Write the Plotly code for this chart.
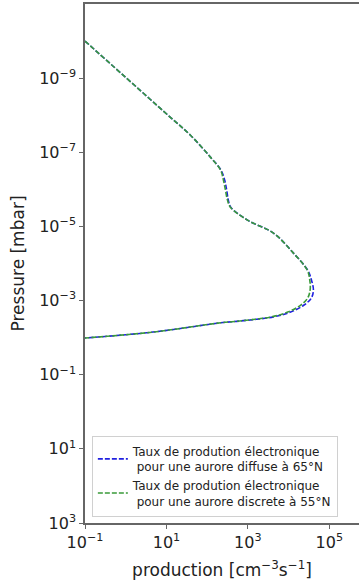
import plotly.graph_objects as go

# Pressure levels [mbar] (log10) and production [cm^-3 s^-1] (log10)
p_log_diffuse = [-10.0, -7.95, -7.46, -6.87, -6.52, -6.25, -5.98, -5.71, -5.52, -5.17,
                 -4.82, -4.28, -3.82, -3.56, -3.29, -3.07, -2.88, -2.69, -2.56, -2.45,
                 -2.40, -2.15, -1.99]
q_log_diffuse = [-1.0, 1.09, 1.59, 2.08, 2.34, 2.43, 2.48, 2.52, 2.58, 2.99,
                 3.63, 4.12, 4.47, 4.56, 4.61, 4.56, 4.38, 4.05, 3.63, 2.82,
                 2.33, 0.67, -1.0]

p_log_discrete = [-10.0, -7.95, -7.46, -6.87, -6.52, -6.25, -5.98, -5.71, -5.52, -5.17,
                  -4.82, -4.28, -3.82, -3.56, -3.29, -3.07, -2.88, -2.69, -2.56, -2.45,
                  -2.40, -2.15, -1.99]
q_log_discrete = [-1.0, 1.09, 1.59, 2.08, 2.33, 2.40, 2.45, 2.50, 2.57, 2.99,
                  3.63, 4.12, 4.46, 4.52, 4.53, 4.47, 4.30, 3.98, 3.58, 2.80,
                  2.33, 0.67, -1.0]

x_tickvals = [1e-1, 1e1, 1e3, 1e5]
x_ticktext = ["10<sup>−1</sup>", "10<sup>1</sup>", "10<sup>3</sup>", "10<sup>5</sup>"]
y_tickvals = [1e-9, 1e-7, 1e-5, 1e-3, 1e-1, 1e1, 1e3]
y_ticktext = ["10<sup>−9</sup>", "10<sup>−7</sup>", "10<sup>−5</sup>", "10<sup>−3</sup>",
              "10<sup>−1</sup>", "10<sup>1</sup>", "10<sup>3</sup>"]

label_diffuse = "Taux de prodution électronique<br> pour une aurore diffuse à 65°N"
label_discrete = "Taux de prodution électronique<br> pour une aurore discrete à 55°N"

fig = go.Figure()
fig.add_trace(go.Scatter(
    x=[10 ** v for v in q_log_diffuse], y=[10 ** v for v in p_log_diffuse],
    mode="lines", name=label_diffuse, line_shape="spline",
    line=dict(color="#2020e0", width=1.6, dash="5px,2px")))
fig.add_trace(go.Scatter(
    x=[10 ** v for v in q_log_discrete], y=[10 ** v for v in p_log_discrete],
    mode="lines", name=label_discrete, line_shape="spline",
    line=dict(color="#3a9a3a", width=1.6, dash="5px,2px")))

font = "DejaVu Sans"
fig.update_layout(
    width=359, height=586,
    margin=dict(l=85, r=0, t=4, b=63, autoexpand=False),
    paper_bgcolor="white", plot_bgcolor="white",
    font=dict(family=font, color="#222"),
    showlegend=True,
    legend=dict(x=0.025, y=0.012, xanchor="left", yanchor="bottom",
                bgcolor="rgba(255,255,255,0.85)", bordercolor="#d0d0d0", borderwidth=1,
                font=dict(family=font, size=12, color="#222"),
                itemwidth=30, tracegroupgap=0),
    xaxis=dict(type="log", range=[-1, 5.73], showgrid=False, zeroline=False,
               automargin=False,
               showline=True, linecolor="#666", linewidth=1.5, mirror=True,
               ticks="outside", ticklen=4, tickcolor="#666",
               tickvals=x_tickvals, ticktext=x_ticktext,
               tickfont=dict(size=16, family=font, color="#222"),
               title=dict(text="production [cm<sup>−3</sup>s<sup>−1</sup>]",
                          font=dict(size=17, family=font, color="#222"), standoff=13)),
    yaxis=dict(type="log", range=[3, -11], showgrid=False, zeroline=False,
               automargin=False,
               showline=True, linecolor="#666", linewidth=1.5,
               ticks="outside", ticklen=4, tickcolor="#666",
               tickvals=y_tickvals, ticktext=y_ticktext,
               tickfont=dict(size=16, family=font, color="#222"),
               title=dict(text="Pressure [mbar]",
                          font=dict(size=17, family=font, color="#222"), standoff=10)),
)

fig.write_html("out.html", config={"displayModeBar": False},
               post_script="document.body.style.margin='0';document.body.style.overflow='hidden';")
